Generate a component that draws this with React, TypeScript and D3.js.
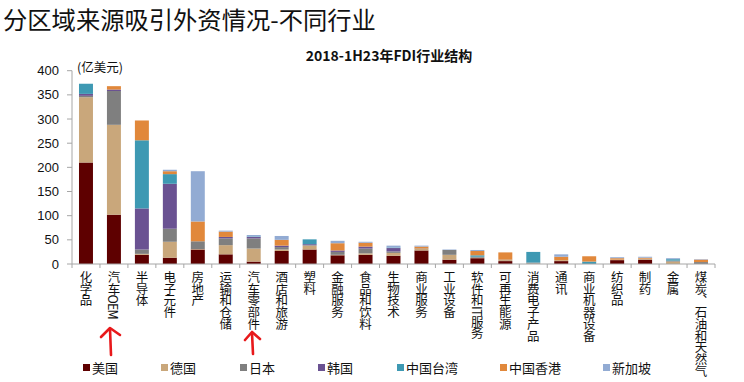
import React from "react";
import * as d3 from "d3";

const categories = ["化学品","汽车OEM","半导体","电子元件","房地产","运输和仓储","汽车零部件","酒店和旅游","塑料","金融服务","食品和饮料","生物技术","商业服务","工业设备","软件和IT服务","可再生能源","消费电子产品","通讯","商业机器设备","纺织品","制药","金属","煤炭、石油和天然气"];
const seriesNames = ["美国","德国","日本","韩国","中国台湾","中国香港","新加坡"];
const usa = [210,102,19,13,30,20,5,27,30,18,19,17,28,9,12,6,0,6,0,8,9,0,0];
const germany = [135,186,2,33,1,19,27,3,8,1,3,6,3,10,1,2,1,2,0,1,2,5,0];
const japan = [3,70,9,27,16,14,21,5,1,6,10,3,1,10,2,1,2,0,0,0,0,2,4];
const korea = [4,3,85,93,0,3,3,3,2,3,4,7,0,0,0,0,0,0,0,0,0,0,0];
const taiwan = [21,0,141,20,0,0,1,0,10,0,0,1,0,0,3,0,22,0,5,0,0,3,0];
const hongkong = [0,7,41,6,41,11,0,12,0,15,8,0,4,0,9,15,0,7,11,3,2,0,5];
const singapore = [0,0,0,3,104,2,3,8,0,5,2,4,2,1,2,0,0,5,0,2,2,2,1];
const yTicks = [0,50,100,150,200,250,300,350,400];
const colors = ["#5e0000","#c9a77b","#7f7f7f","#6a5292","#3e99b3","#e1883b","#92abd3"];

const allSeries = [usa, germany, japan, korea, taiwan, hongkong, singapore];

export default function App() {
  const W = 744, H = 382;
  const x = d3.scaleBand<string>().domain(categories).range([72, 715]).paddingInner(0.5).paddingOuter(0.25);
  const y = d3.scaleLinear().domain([0, 400]).range([264, 70.7]);
  const rows = categories.map((c, i) => {
    const r: any = { cat: c };
    seriesNames.forEach((s, j) => (r[s] = allSeries[j][i]));
    return r;
  });
  const stacked = d3.stack<any>().keys(seriesNames)(rows);
  const boundaries = d3.range(categories.length + 1).map((i) => 72 + i * (643 / categories.length));
  const cjk = "'Noto Sans CJK SC', 'Noto Sans', sans-serif";
  const legendX = [83, 161, 240, 318, 397, 500, 603];
  return (
    <svg width={W} height={H} style={{ position: "absolute", left: 0, top: 0, background: "#fff" }}>
      <text x={3} y={29} fontFamily={cjk} fontSize={24.3} fill="#111">分区域来源吸引外资情况-不同行业</text>
      <text x={389} y={61} textAnchor="middle" fontFamily={cjk} fontSize={14} fontWeight="bold" fill="#111">2018-1H23年FDI行业结构</text>
      <text x={77} y={72} fontFamily={cjk} fontSize={12.5} fill="#111">(亿美元)</text>
      {stacked.map((layer, j) => (
        <g key={layer.key} fill={colors[j]}>
          {layer.map((d, i) => {
            const h = y(d[0]) - y(d[1]);
            if (h <= 0) return null;
            return <rect key={i} x={x(categories[i])} y={y(d[1])} width={x.bandwidth()} height={h} />;
          })}
        </g>
      ))}
      <line x1={72} x2={72} y1={y(400)} y2={264} stroke="#a6a6a6" />
      {yTicks.map((t) => (
        <g key={t}>
          <line x1={67} x2={72} y1={y(t)} y2={y(t)} stroke="#a6a6a6" />
          <text x={59} y={y(t)} dy="0.35em" textAnchor="end" fontFamily="'Liberation Sans', Arial, sans-serif" fontSize={13} fill="#111">{t}</text>
        </g>
      ))}
      <line x1={72} x2={715} y1={264} y2={264} stroke="#a6a6a6" />
      {boundaries.map((b, i) => (
        <line key={i} x1={b} x2={b} y1={264} y2={268} stroke="#a6a6a6" />
      ))}
      {categories.map((c) => (
        <text key={c} x={(x(c) as number) + x.bandwidth() / 2} y={271} fontFamily={cjk} fontSize={12.5} fill="#111"
          style={{ writingMode: "vertical-rl" as any }} letterSpacing={-0.8}>{c}</text>
      ))}
      {seriesNames.map((s, j) => (
        <g key={s}>
          <rect x={legendX[j]} y={364} width={7} height={7} fill={colors[j]} />
          <text x={legendX[j] + 9} y={368} dy="0.35em" fontFamily={cjk} fontSize={13} fill="#111">{s}</text>
        </g>
      ))}
      <g stroke="#e8191b" strokeWidth={2.6} fill="none" strokeLinecap="round" strokeLinejoin="round">
        <path d="M111,355 L110,329" />
        <path d="M101,337 L110,328 L120,335" />
        <path d="M253,354 L252,333" />
        <path d="M245,340 L252,332 L260,339" />
      </g>
    </svg>
  );
}
